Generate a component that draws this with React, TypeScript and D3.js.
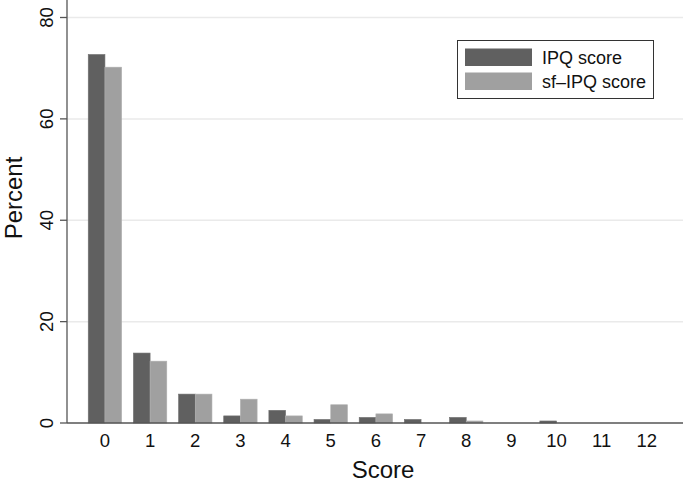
import React, { useEffect, useRef } from 'react';
import * as d3 from 'd3';

const scores = [0, 1, 2, 3, 4, 5, 6, 7, 8, 9, 10, 11, 12];
const ipq = [72.7, 13.8, 5.7, 1.4, 2.5, 0.7, 1.1, 0.7, 1.1, 0, 0.4, 0, 0];
const sfIpq = [70.2, 12.2, 5.7, 4.7, 1.4, 3.6, 1.8, 0, 0.4, 0, 0, 0, 0];
const yTicks = [0, 20, 40, 60, 80];
const seriesNames = ['IPQ score', 'sf\u2013IPQ score'];
const colors = ['#606060', '#a0a0a0'];

export default function App() {
  const svgRef = useRef<SVGSVGElement>(null);

  useEffect(() => {
    const svg = d3.select(svgRef.current);
    svg.selectAll('*').remove();
    const font = '"Liberation Sans", Arial, sans-serif';

    const left = 67, right = 683, bottom = 423;
    const x = d3.scaleLinear().domain([-0.84, 12.8]).range([left, right]);
    const y = d3.scaleLinear().domain([0, 80]).range([bottom, 17.5]);
    const bw = 16.7;

    svg.append('rect').attr('width', 685).attr('height', 484).attr('fill', '#fff');

    // grid
    svg.append('g').selectAll('line').data(yTicks.filter(t => t > 0)).join('line')
      .attr('x1', left).attr('x2', right).attr('y1', d => y(d)).attr('y2', d => y(d))
      .attr('stroke', '#eaeaea').attr('stroke-width', 1.5);

    // bars
    const series = [ipq, sfIpq];
    series.forEach((vals, si) => {
      svg.append('g').selectAll('rect').data(scores).join('rect')
        .attr('x', d => x(d) - bw + si * bw)
        .attr('y', d => y(vals[d]))
        .attr('width', bw)
        .attr('height', d => bottom - y(vals[d]))
        .attr('fill', colors[si])
        .attr('stroke', si === 0 ? '#707070' : '#b0b0b0')
        .attr('stroke-width', 0.6);
    });

    // axes
    svg.append('line').attr('x1', left).attr('x2', left).attr('y1', 0).attr('y2', bottom)
      .attr('stroke', '#555').attr('stroke-width', 1.3);
    svg.append('line').attr('x1', left).attr('x2', right).attr('y1', bottom).attr('y2', bottom)
      .attr('stroke', '#555').attr('stroke-width', 1.3);

    const yt = svg.append('g').selectAll('g').data(yTicks).join('g');
    yt.append('line').attr('x1', left - 7).attr('x2', left).attr('y1', d => y(d)).attr('y2', d => y(d))
      .attr('stroke', '#555').attr('stroke-width', 1.3);
    yt.append('text')
      .attr('transform', d => `translate(53,${y(d)}) rotate(-90)`)
      .attr('text-anchor', 'middle')
      .attr('font-family', font).attr('font-size', 18.5).attr('fill', '#111')
      .text(d => d);

    svg.append('g').selectAll('text').data(scores).join('text')
      .attr('x', d => x(d)).attr('y', 447)
      .attr('text-anchor', 'middle')
      .attr('font-family', font).attr('font-size', 18.5).attr('fill', '#111')
      .text(d => d);

    svg.append('text')
      .attr('transform', 'translate(22,198) rotate(-90)')
      .attr('text-anchor', 'middle')
      .attr('font-family', font).attr('font-size', 24).attr('fill', '#111')
      .text('Percent');
    svg.append('text')
      .attr('x', 383).attr('y', 478)
      .attr('text-anchor', 'middle')
      .attr('font-family', font).attr('font-size', 24).attr('fill', '#111')
      .text('Score');

    // legend
    const lg = svg.append('g');
    lg.append('rect').attr('x', 457.5).attr('y', 40.5).attr('width', 196).attr('height', 58)
      .attr('fill', '#fff').attr('stroke', '#333').attr('stroke-width', 1);
    seriesNames.forEach((name, i) => {
      const yy = 48.5 + i * 24;
      lg.append('rect').attr('x', 465).attr('y', yy).attr('width', 67).attr('height', 17.5)
        .attr('fill', colors[i]);
      lg.append('text').attr('x', 542).attr('y', yy + 15)
        .attr('font-family', font).attr('font-size', 18).attr('fill', '#111')
        .text(name);
    });
  }, []);

  return (
    <svg ref={svgRef} width={685} height={484} style={{ display: 'block', position: 'absolute', left: 0, top: 0 }} />
  );
}
